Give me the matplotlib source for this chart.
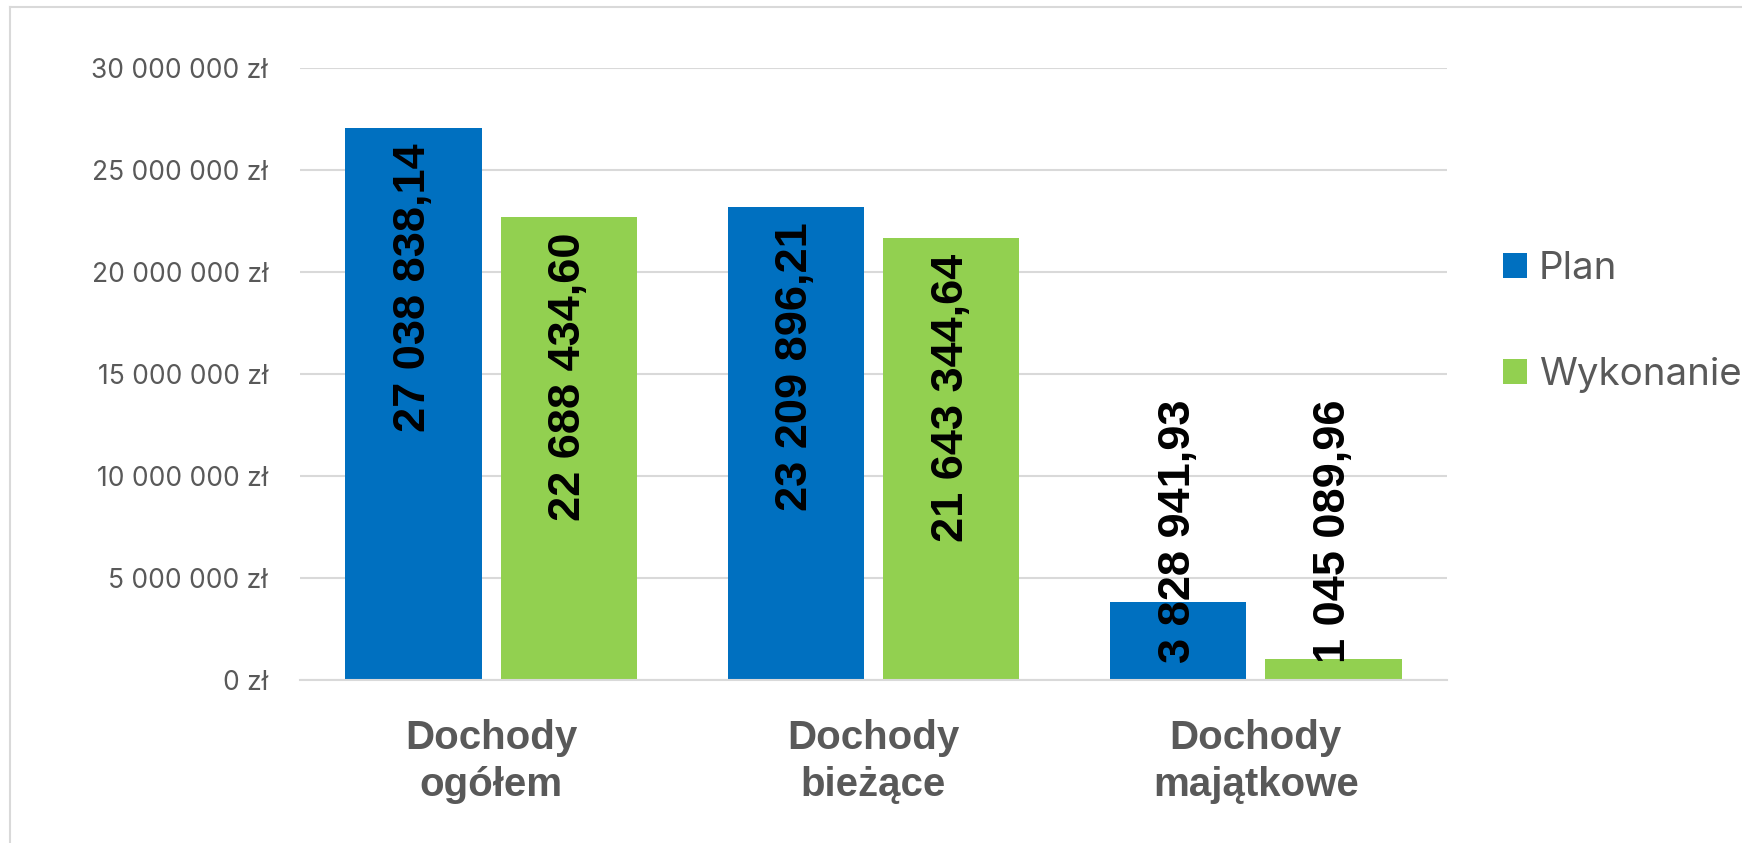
import numpy as np
import matplotlib
matplotlib.use('Agg')
import matplotlib.pyplot as plt
from matplotlib.ticker import FuncFormatter, MultipleLocator
from matplotlib.lines import Line2D

# chart data
categories = ['Dochody\nogółem', 'Dochody\nbieżące', 'Dochody\nmajątkowe']
series_names = ['Plan', 'Wykonanie']
plan = [27038838.14, 23209896.21, 3828941.93]
wykonanie = [22688434.60, 21643344.64, 1045089.96]
colors = ['#0070C0', '#92D050']

W, H = 1742, 843
DPI = 100


def pl_money(v):
    """27038838.14 -> '27 038 838,14'"""
    s = f'{v:,.2f}'
    return s.replace(',', ' ').replace('.', ',')


def pl_tick(v, pos):
    return f'{int(round(v)):,}'.replace(',', ' ') + ' zł'


fig = plt.figure(figsize=(W / DPI, H / DPI), dpi=DPI)
ax = fig.add_axes([300 / W, (H - 680) / H, (1447 - 300) / W, (680 - 68) / H])

x = np.arange(len(categories))
bw = 0.356
gap = 0.05
offsets = [-(bw + gap) / 2, (bw + gap) / 2]

bar_sets = []
for vals, off, col, name in zip([plan, wykonanie], offsets, colors, series_names):
    bars = ax.bar(x + off, vals, width=bw, color=col, label=name, zorder=2)
    bar_sets.append((bars, vals))

ax.set_xlim(-0.5, len(categories) - 0.5)
ax.set_ylim(0, 30000000)
ax.yaxis.set_major_locator(MultipleLocator(5000000))
ax.yaxis.set_major_formatter(FuncFormatter(pl_tick))
ax.grid(axis='y', color='#d9d9d9', linewidth=1.5, zorder=0)
ax.set_axisbelow(True)
for side in ['top', 'right', 'left']:
    ax.spines[side].set_visible(False)
ax.spines['bottom'].set_color('#d9d9d9')
ax.spines['bottom'].set_linewidth(1.5)
ax.tick_params(axis='both', length=0)
ax.tick_params(axis='y', pad=23, labelsize=19, labelcolor='#595959')
for lab in ax.get_yticklabels():
    lab.set_family(['Inter', 'DejaVu Sans'])

ax.set_xticks(x)
ax.set_xticklabels(categories, fontsize=29, fontweight='bold', color='#595959',
                   family=['Liberation Sans', 'DejaVu Sans'], linespacing=1.3)
ax.tick_params(axis='x', pad=28)

# value labels, rotated; inside end if it fits, else from the base
fig.canvas.draw()
renderer = fig.canvas.get_renderer()
for bars, vals in bar_sets:
    for b, v in zip(bars, vals):
        cx = b.get_x() + b.get_width() / 2
        t = ax.annotate(pl_money(v), xy=(cx, v), xytext=(0, -11),
                        textcoords='offset points', rotation=90,
                        ha='center', va='top', fontsize=32.5, fontweight='bold',
                        color='black', family=['Liberation Sans', 'DejaVu Sans'],
                        zorder=3)
        text_h = t.get_window_extent(renderer).height
        bar_h = ax.transData.transform((0, v))[1] - ax.transData.transform((0, 0))[1]
        if text_h + 2 * 15 > bar_h:
            t.xy = (cx, 0)
            t.set_position((0, 12))
            t.set_va('bottom')

# legend on the right
leg = fig.legend(loc='center left', bbox_to_anchor=(1503 / W, 1 - 322 / H),
                 frameon=False, fontsize=27.7, handlelength=0.62, handleheight=0.62,
                 handletextpad=0.31, labelspacing=1.8, borderpad=0, borderaxespad=0)
for txt in leg.get_texts():
    txt.set_color('#595959')
    txt.set_family(['Inter', 'DejaVu Sans'])

# chart area border (left and top only visible)
fig.add_artist(Line2D([10 / W, 10 / W], [0, 1 - 7 / H], transform=fig.transFigure,
                      color='#d9d9d9', linewidth=1.5))
fig.add_artist(Line2D([10 / W, 1], [1 - 7 / H, 1 - 7 / H], transform=fig.transFigure,
                      color='#d9d9d9', linewidth=1.5))

fig.savefig('out.png', dpi=DPI)
plt.close(fig)
